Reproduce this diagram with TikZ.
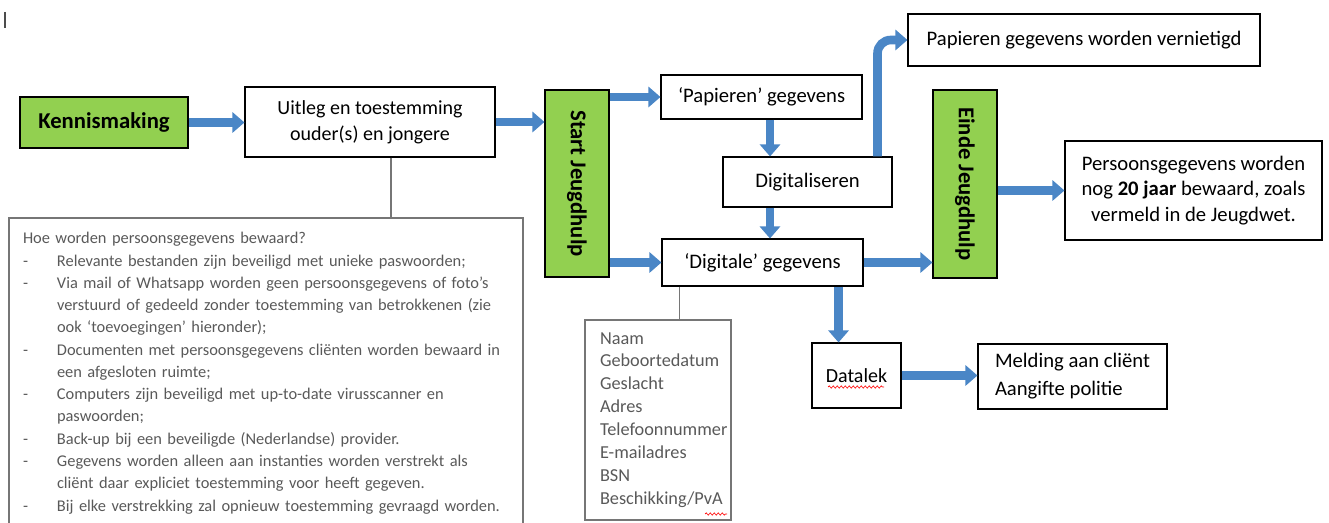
\documentclass[tikz,border=0pt]{standalone}
\usepackage{fontspec}
\setmainfont{Carlito}
\usetikzlibrary{arrows.meta, positioning, decorations.pathmorphing}
\definecolor{boxgreen}{RGB}{146,208,80}
\definecolor{arrblue}{RGB}{74,134,198}
\definecolor{notegray}{RGB}{89,89,89}
\definecolor{linegray}{RGB}{118,118,118}

\begin{document}
\begin{tikzpicture}[
  x = 0.75pt, y = -0.75pt,
  sz/.style 2 args = {minimum width=#1*0.75pt, minimum height=#2*0.75pt},
  box/.style   = {draw, line width=0.8pt, fill=white, inner sep=0pt,
                  align=center, font=\fontsize{15.5}{19.5}\selectfont},
  phase/.style = {draw, line width=0.8pt, fill=boxgreen, inner sep=0pt,
                  align=center, font=\fontsize{17}{20}\selectfont\bfseries},
  note/.style  = {draw=linegray, line width=0.8pt, inner sep=0pt,
                  text=notegray, align=left},
  arr/.style   = {draw=arrblue, line width=6.5pt,
                  -{Triangle[width=15pt, length=9pt]}},
  link/.style  = {draw=linegray, line width=1pt}
]
\useasboundingbox (0,0) rectangle (1329,523);

% Nodes
\node[phase, sz={168}{51}]  (kennis)  at (104,122.5) {Kennismaking};
\node[box,   sz={250}{70}, font=\fontsize{15}{19.5}\selectfont]
                            (uitleg)  at (370,122) {Uitleg en toestemming\\ouder(s) en jongere};
\node[phase, sz={64}{187}]  (start)   at (577,183.5) {\rotatebox{-90}{Start Jeugdhulp}};
\node[box,   sz={201}{44}]  (pap)     at (761.5,97) {‘Papieren’ gegevens};
\node[box,   sz={169}{50}]  (digi)    at (807.5,182) {Digitaliseren};
\node[box,   sz={201}{47}]  (dig)     at (762.5,262.5) {‘Digitale’ gegevens};
\node[box,   sz={352}{52}]  (verni)   at (1084,40) {Papieren gegevens worden vernietigd};
\node[phase, sz={64}{188}]  (einde)   at (965,184) {\rotatebox{-90}{Einde Jeugdhulp}};
\node[box,   sz={257}{99}, font=\fontsize{15.5}{19.2}\selectfont]
                            (pers)    at (1193.5,190.5) {Persoonsgegevens worden\\nog \textbf{20 jaar} bewaard, zoals\\vermeld in de Jeugdwet.};
\node[box,   sz={89}{65}, font=\fontsize{15}{19.5}\selectfont]
                            (datalek) at (856.5,375.5) {Datalek};
\node[box,   sz={189}{65}, align=left, font=\fontsize{15.5}{21}\selectfont]
                            (melding) at (1072.5,376.5) {Melding aan cliënt\\Aangifte politie};
\node[note,  sz={146}{200}, text width=87pt, font=\fontsize{13.7}{17.2}\selectfont]
                            (lijst)   at (658,420) {Naam\\Geboortedatum\\Geslacht\\Adres\\Telefoonnummer\\E-mailadres\\BSN\\Beschikking/PvA};
\node[note,  sz={514}{310}, text width=364.5pt, font=\fontsize{12.3}{16.7}\selectfont]
                            (info)    at (266,373) {%
  \begin{tabular}{@{}p{25.5pt}@{}l@{}}
  \multicolumn{2}{@{}l@{}}{Hoe worden persoonsgegevens bewaard?}\\
  - & Relevante bestanden zijn beveiligd met unieke paswoorden;\\
  - & Via mail of Whatsapp worden geen persoonsgegevens of foto’s\\
    & verstuurd of gedeeld zonder toestemming van betrokkenen (zie\\
    & ook ‘toevoegingen’ hieronder);\\
  - & Documenten met persoonsgegevens cliënten worden bewaard in\\
    & een afgesloten ruimte;\\
  - & Computers zijn beveiligd met up-to-date virusscanner en\\
    & paswoorden;\\
  - & Back-up bij een beveiligde (Nederlandse) provider.\\
  - & Gegevens worden alleen aan instanties worden verstrekt als\\
    & cliënt daar expliciet toestemming voor heeft gegeven.\\
  - & Bij elke verstrekking zal opnieuw toestemming gevraagd worden.
  \end{tabular}};

% Arrows
\draw[arr] (kennis.east) -- (kennis.east -| uitleg.west);
\draw[arr] (uitleg.east) -- (uitleg.east -| start.west);
\draw[arr] (start.east |- pap) -- (pap.west);
\draw[arr] (start.east |- dig) -- (dig.west);
\draw[arr] ([xshift=6.4pt]pap.south) -- ([xshift=6.4pt]pap.south |- digi.north);
\draw[arr] ([xshift=5.6pt]dig.north |- digi.south) -- ([xshift=5.6pt]dig.north);
\draw[arr, rounded corners=10pt] ([xshift=-11.25pt]digi.north east) |- (verni.west);
\draw[arr] (dig.east) -- (dig.east -| einde.west);
\draw[arr] (einde.east |- pers) -- (pers.west);
\draw[arr] ([xshift=-18.75pt]dig.south east) -- ([xshift=-18.75pt]dig.south east |- datalek.north);
\draw[arr] (datalek.east) -- (datalek.east -| melding.west);

% Links to the notes
\draw[link] ([xshift=15.75pt]uitleg.south) -- ([xshift=15.75pt]uitleg.south |- info.north);
\draw[link] ([xshift=13.5pt]dig.south west) -- ([xshift=13.5pt]dig.south west |- lijst.north);

% Spell-check marks and cursor
\draw[red, line width=0.5pt, decorate, decoration={snake, amplitude=0.8pt, segment length=3pt}]
  (828,387) -- (884,387);
\draw[red, line width=0.5pt, decorate, decoration={snake, amplitude=0.8pt, segment length=3pt}]
  (705,514) -- (727,514);
\draw[black!70, line width=0.8pt] (5,12) -- (5,28);
\end{tikzpicture}
\end{document}
